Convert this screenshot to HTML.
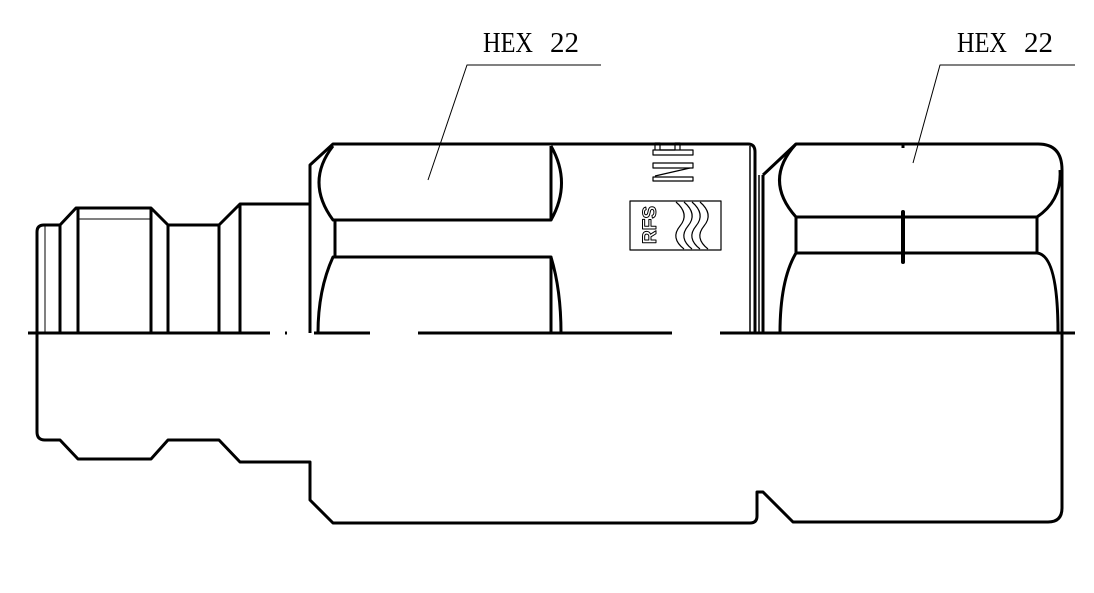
<!DOCTYPE html>
<html><head><meta charset="utf-8"><style>html,body{margin:0;padding:0;background:#fff}svg{display:block}</style></head>
<body>
<svg width="1094" height="593" viewBox="0 0 1094 593" xmlns="http://www.w3.org/2000/svg" fill="none" stroke="#000" stroke-linejoin="round">
<!-- labels -->
<g font-family="Liberation Serif, serif" font-size="29" fill="#000" stroke="none">
<text x="483" y="52" textLength="50" lengthAdjust="spacingAndGlyphs">HEX</text>
<text x="550" y="52" textLength="29" lengthAdjust="spacingAndGlyphs">22</text>
<text x="957" y="52" textLength="50" lengthAdjust="spacingAndGlyphs">HEX</text>
<text x="1024" y="52" textLength="29" lengthAdjust="spacingAndGlyphs">22</text>
</g>
<g stroke-width="1">
<polyline points="601,65 467,65 428,180"/>
<polyline points="1075,65 940,65 913,163"/>
</g>
<!-- centerline -->
<g stroke-width="3">
<line x1="28" y1="333" x2="270" y2="333"/>
<line x1="285" y1="333" x2="287" y2="333"/>
<line x1="314" y1="333" x2="370" y2="333"/>
<line x1="418" y1="333" x2="672" y2="333"/>
<line x1="720" y1="333" x2="1075" y2="333"/>
</g>
<!-- left connector -->
<g stroke-width="3">
<path d="M37,333 V232 Q37,225 44,225 H60 L76,208 H151 L168,225 H219 L240,204 H310"/>
<line x1="60" y1="225" x2="60" y2="333"/>
<line x1="78" y1="208" x2="78" y2="333"/>
<line x1="151" y1="208" x2="151" y2="333"/>
<line x1="168" y1="225" x2="168" y2="333"/>
<line x1="219" y1="225" x2="219" y2="333"/>
<line x1="240" y1="204" x2="240" y2="333"/>
<path d="M37,333 V432 Q37,440 45,440 H60 L78,459 H151 L168,440 H219 L240,462 H310 V500 L333,523 H750 Q757,523 757,516 V492 H763 L793,522 H1048 Q1062,522 1062,508 V333"/>
</g>
<line x1="45" y1="226" x2="45" y2="333" stroke-width="1"/>
<line x1="78" y1="219" x2="151" y2="219" stroke-width="1"/>
<!-- middle hex body -->
<g stroke-width="3">
<path d="M310,333 V165 L333,144 H748 Q755,144 755,152 V333"/>
<path d="M333,146 Q305,182 333,220 H551 V146"/>
<path d="M551,146 Q572,183 551,220"/>
<path d="M335,220 V257"/>
<path d="M318,333 Q318,290 333,257 H551 V333"/>
<path d="M551,257 Q561,290 561,333"/>
<line x1="763" y1="175" x2="763" y2="333"/>
<path d="M763,175 L796,144 H1038 Q1062,144 1062,170 V333"/>
<path d="M796,144 Q763,180 796,217 H1037 Q1062,200 1060,170"/>
<line x1="796" y1="217" x2="796" y2="253"/>
<line x1="1037" y1="217" x2="1037" y2="253"/>
<path d="M780,333 Q780,280 796,253 H1037 Q1058,255 1058,333"/>
</g>
<g stroke-width="1.5">
<line x1="750" y1="146" x2="750" y2="333"/>
<line x1="759" y1="175" x2="759" y2="333"/>
</g>
<line x1="903" y1="212" x2="903" y2="262" stroke-width="4" stroke-linecap="round"/>
<line x1="903" y1="144" x2="903" y2="148" stroke-width="3"/>
<!-- logo -->
<rect x="630" y="201" width="91" height="49" stroke-width="1.2"/>
<g stroke-width="1.2">
<path d="M676,202 Q690,214 680,226 Q670,238 684,249"/>
<path d="M684,202 Q698,214 688,226 Q678,238 692,249"/>
<path d="M692,202 Q706,214 696,226 Q686,238 700,249"/>
<path d="M700,202 Q714,214 704,226 Q694,238 708,249"/>
</g>
<text transform="translate(656,244) rotate(-90)" font-family="Liberation Sans, sans-serif" font-size="19" font-weight="bold" fill="#fff" stroke="#000" stroke-width="1">RFS</text>
<g stroke-width="1.2">
<rect x="653" y="150" width="40" height="5"/>
<rect x="653" y="163" width="40" height="5"/>
<rect x="653" y="177" width="40" height="4"/>
<polyline points="655,176 690,168"/>
<polyline points="655,150 655,143 660,143 660,150 675,150 675,143 680,143 680,150"/>
</g>
</svg>
</body></html>
